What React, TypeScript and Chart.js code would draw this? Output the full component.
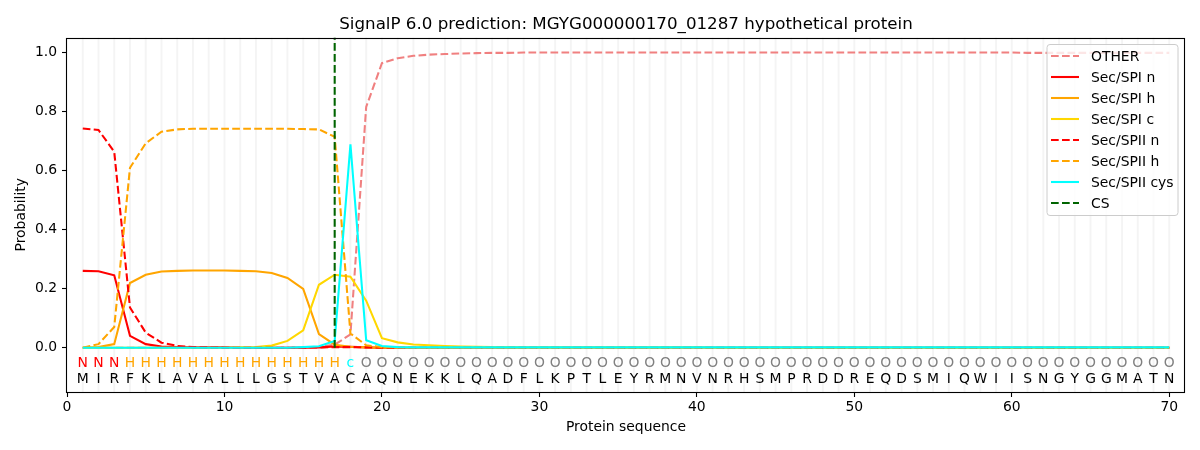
import React, { useEffect, useRef } from "react";
import { Chart, registerables } from "chart.js";

Chart.register(...registerables);

const TITLE = "SignalP 6.0 prediction: MGYG000000170_01287 hypothetical protein";
const X_LABEL = "Protein sequence";
const Y_LABEL = "Probability";

const SEQUENCE = "MIRFKLAVALLLGSTVACAQNEKKLQADFLKPTLEYRMNVNRHSMPRDDREQDSMIQWIISNGYGGMATN";
const REGION_LABELS =
  "NNN" + "HHHHHHHHHHHHHH" + "c" +
  "OOOOOOOOOO" + "OOOOOOOOOO" + "OOOOOOOOOO" + "OOOOOOOOOO" + "OOOOOOOOOO" + "OO";

const CS_POSITION = 17;
const X_TICKS = [0, 10, 20, 30, 40, 50, 60, 70];
const Y_TICKS = [0, 0.2, 0.4, 0.6, 0.8, 1.0];

const OTHER = [
  0, 0, 0, 0, 0, 0, 0, 0, 0, 0,
  0, 0, 0, 0, 0.001, 0.003, 0.01, 0.045, 0.815, 0.963,
  0.98, 0.988, 0.992, 0.994, 0.996, 0.997, 0.998, 0.998, 0.999, 0.999,
  0.999, 0.999, 0.999, 0.999, 0.999, 0.999, 0.999, 0.999, 0.999, 0.999,
  0.999, 0.999, 0.999, 0.999, 0.999, 0.999, 0.999, 0.999, 0.999, 0.999,
  0.999, 0.999, 0.999, 0.999, 0.999, 0.999, 0.999, 0.999, 0.999, 0.999,
  0.998, 0.998, 0.998, 0.998, 0.998, 0.998, 0.998, 0.998, 0.998, 0.998,
];
const SPI_N = [
  0.26, 0.259, 0.245, 0.04, 0.012, 0.004, 0.002, 0.001, 0.001, 0.001,
  0, 0, 0, 0, 0, 0.001, 0.004, 0.003, 0.001, 0,
  0, 0, 0, 0, 0, 0, 0, 0, 0, 0,
  0, 0, 0, 0, 0, 0, 0, 0, 0, 0,
  0, 0, 0, 0, 0, 0, 0, 0, 0, 0,
  0, 0, 0, 0, 0, 0, 0, 0, 0, 0,
  0, 0, 0, 0, 0, 0, 0, 0, 0, 0,
];
const SPI_H = [
  0, 0.002, 0.012, 0.219, 0.247, 0.258, 0.26, 0.261, 0.261, 0.261,
  0.26, 0.259, 0.253, 0.236, 0.199, 0.046, 0.01, 0.003, 0.001, 0,
  0, 0, 0, 0, 0, 0, 0, 0, 0, 0,
  0, 0, 0, 0, 0, 0, 0, 0, 0, 0,
  0, 0, 0, 0, 0, 0, 0, 0, 0, 0,
  0, 0, 0, 0, 0, 0, 0, 0, 0, 0,
  0, 0, 0, 0, 0, 0, 0, 0, 0, 0,
];
const SPI_C = [
  0, 0, 0, 0, 0, 0, 0, 0, 0, 0,
  0.001, 0.002, 0.007, 0.023, 0.059, 0.213, 0.247, 0.24, 0.159, 0.032,
  0.018, 0.011, 0.008, 0.006, 0.004, 0.003, 0.002, 0.002, 0.001, 0.001,
  0.001, 0.001, 0.001, 0.001, 0.001, 0.001, 0.001, 0.001, 0.001, 0.001,
  0, 0, 0, 0, 0, 0, 0, 0, 0, 0,
  0, 0, 0, 0, 0, 0, 0, 0, 0, 0,
  0, 0, 0, 0, 0, 0, 0, 0, 0, 0,
];
const SPII_N = [
  0.742, 0.737, 0.663, 0.136, 0.051, 0.017, 0.006, 0.002, 0.001, 0,
  0, 0, 0, 0, 0, 0.001, 0.002, 0.002, 0.001, 0,
  0, 0, 0, 0, 0, 0, 0, 0, 0, 0,
  0, 0, 0, 0, 0, 0, 0, 0, 0, 0,
  0, 0, 0, 0, 0, 0, 0, 0, 0, 0,
  0, 0, 0, 0, 0, 0, 0, 0, 0, 0,
  0, 0, 0, 0, 0, 0, 0, 0, 0, 0,
];
const SPII_H = [
  0, 0.012, 0.07, 0.609, 0.692, 0.731, 0.739, 0.741, 0.741, 0.741,
  0.741, 0.741, 0.741, 0.741, 0.74, 0.739, 0.714, 0.048, 0.008, 0.002,
  0.001, 0, 0, 0, 0, 0, 0, 0, 0, 0,
  0, 0, 0, 0, 0, 0, 0, 0, 0, 0,
  0, 0, 0, 0, 0, 0, 0, 0, 0, 0,
  0, 0, 0, 0, 0, 0, 0, 0, 0, 0,
  0, 0, 0, 0, 0, 0, 0, 0, 0, 0,
];
const SPII_CYS = [
  0, 0, 0, 0, 0, 0, 0, 0, 0, 0,
  0, 0, 0, 0, 0.002, 0.005, 0.023, 0.688, 0.025, 0.006,
  0.002, 0.001, 0.001, 0.001, 0.001, 0.001, 0.001, 0.001, 0.001, 0.001,
  0.001, 0.001, 0.001, 0.001, 0.001, 0.001, 0.001, 0.001, 0.001, 0.001,
  0.001, 0.001, 0.001, 0.001, 0.001, 0.001, 0.001, 0.001, 0.001, 0.001,
  0.001, 0.001, 0.001, 0.001, 0.001, 0.001, 0.001, 0.001, 0.001, 0.001,
  0.001, 0.001, 0.001, 0.001, 0.001, 0.001, 0.001, 0.001, 0.001, 0.001,
];
const CS_RANGE = [0, 1.05];

const FONT_FAMILY = "'DejaVu Sans', 'Liberation Sans', sans-serif";
const FS = 13.9;
const DASH = [7.7, 3.3];
const LW = 2.08;

const LABEL_COLORS: Record<string, string> = {
  N: "#ff0000",
  H: "#ffa500",
  c: "#00ffff",
  O: "#808080",
};

const SERIES = [
  { name: "OTHER", values: OTHER, color: "#f08080", dashed: true },
  { name: "Sec/SPI n", values: SPI_N, color: "#ff0000", dashed: false },
  { name: "Sec/SPI h", values: SPI_H, color: "#ffa500", dashed: false },
  { name: "Sec/SPI c", values: SPI_C, color: "#ffd700", dashed: false },
  { name: "Sec/SPII n", values: SPII_N, color: "#ff0000", dashed: true },
  { name: "Sec/SPII h", values: SPII_H, color: "#ffa500", dashed: true },
  { name: "Sec/SPII cys", values: SPII_CYS, color: "#00ffff", dashed: false },
];
const CS_SERIES = { name: "CS", color: "#006400", dashed: true };

const overlayPlugin = {
  id: "overlay",
  beforeDatasetsDraw(chart: any) {
    const { ctx, chartArea, scales } = chart;
    const x = scales.x;
    ctx.save();
    ctx.strokeStyle = "rgba(0,0,0,0.045)";
    ctx.lineWidth = 2;
    for (let i = 0; i < SEQUENCE.length; i++) {
      const px = x.getPixelForValue(i + 1);
      ctx.beginPath();
      ctx.moveTo(px, chartArea.top);
      ctx.lineTo(px, chartArea.bottom);
      ctx.stroke();
    }
    ctx.restore();
  },
  afterDatasetsDraw(chart: any) {
    const { ctx, chartArea, scales } = chart;
    const x = scales.x;
    const y = scales.y;
    ctx.save();
    // residue letters
    ctx.font = `${FS}px ${FONT_FAMILY}`;
    ctx.textAlign = "center";
    ctx.textBaseline = "alphabetic";
    const yLab = y.getPixelForValue(-0.066);
    const ySeq = y.getPixelForValue(-0.119);
    for (let i = 0; i < SEQUENCE.length; i++) {
      const px = x.getPixelForValue(i + 1);
      const lab = REGION_LABELS[i];
      ctx.fillStyle = LABEL_COLORS[lab] || "#808080";
      ctx.fillText(lab, px, yLab);
      ctx.fillStyle = "#000000";
      ctx.fillText(SEQUENCE[i], px, ySeq);
    }
    // axes frame
    ctx.strokeStyle = "#000000";
    ctx.lineWidth = 1.1;
    ctx.strokeRect(
      Math.round(chartArea.left) - 0.5,
      Math.round(chartArea.top) + 0.5,
      Math.round(chartArea.right) - Math.round(chartArea.left),
      Math.round(chartArea.bottom) - Math.round(chartArea.top)
    );
    // legend
    const items = [...SERIES, CS_SERIES];
    const boxRight = chartArea.right - 7;
    const boxLeft = boxRight - 131;
    const boxTop = chartArea.top + 7;
    const boxH = 171;
    const r = 3;
    ctx.beginPath();
    ctx.moveTo(boxLeft + r, boxTop);
    ctx.lineTo(boxRight - r, boxTop);
    ctx.arcTo(boxRight, boxTop, boxRight, boxTop + r, r);
    ctx.lineTo(boxRight, boxTop + boxH - r);
    ctx.arcTo(boxRight, boxTop + boxH, boxRight - r, boxTop + boxH, r);
    ctx.lineTo(boxLeft + r, boxTop + boxH);
    ctx.arcTo(boxLeft, boxTop + boxH, boxLeft, boxTop + boxH - r, r);
    ctx.lineTo(boxLeft, boxTop + r);
    ctx.arcTo(boxLeft, boxTop, boxLeft + r, boxTop, r);
    ctx.closePath();
    ctx.fillStyle = "rgba(255,255,255,0.8)";
    ctx.fill();
    ctx.strokeStyle = "#cccccc";
    ctx.lineWidth = 1;
    ctx.stroke();
    ctx.textAlign = "left";
    ctx.textBaseline = "middle";
    items.forEach((it, i) => {
      const cy = boxTop + 11.5 + 21 * i;
      ctx.strokeStyle = it.color;
      ctx.lineWidth = LW;
      ctx.setLineDash(it.dashed ? DASH : []);
      ctx.beginPath();
      ctx.moveTo(boxLeft + 4, cy);
      ctx.lineTo(boxLeft + 32, cy);
      ctx.stroke();
      ctx.setLineDash([]);
      ctx.fillStyle = "#000000";
      ctx.fillText(it.name, boxLeft + 44, cy + 1);
    });
    ctx.restore();
  },
  afterDraw(chart: any) {
    const { ctx, chartArea } = chart;
    ctx.save();
    ctx.font = `16.7px ${FONT_FAMILY}`;
    ctx.fillStyle = "#000000";
    ctx.textAlign = "center";
    ctx.textBaseline = "alphabetic";
    ctx.fillText(TITLE, (chartArea.left + chartArea.right) / 2, chartArea.top - 8.3);
    ctx.restore();
  },
};

export default function App() {
  const canvasRef = useRef<HTMLCanvasElement | null>(null);

  useEffect(() => {
    const canvas = canvasRef.current;
    if (!canvas) return;
    const positions = SEQUENCE.split("").map((_, i) => i + 1);
    const datasets: any[] = SERIES.map((s, idx) => ({
      label: s.name,
      data: positions.map((p, i) => ({ x: p, y: s.values[i] })),
      borderColor: s.color,
      backgroundColor: s.color,
      borderWidth: LW,
      borderDash: s.dashed ? DASH : [],
      pointRadius: 0,
      pointHoverRadius: 0,
      fill: false,
      tension: 0,
      order: -idx,
    }));
    datasets.push({
      label: CS_SERIES.name,
      data: CS_RANGE.map((v) => ({ x: CS_POSITION, y: v })),
      borderColor: CS_SERIES.color,
      backgroundColor: CS_SERIES.color,
      borderWidth: LW,
      borderDash: DASH,
      pointRadius: 0,
      pointHoverRadius: 0,
      fill: false,
      tension: 0,
      order: -SERIES.length,
    });

    const chart = new Chart(canvas, {
      type: "line",
      data: { datasets },
      plugins: [overlayPlugin],
      options: {
        animation: false,
        responsive: false,
        devicePixelRatio: 1,
        layout: { padding: { top: 37.5, right: 15, bottom: 0, left: 0 } },
        plugins: {
          legend: { display: false },
          title: { display: false },
          tooltip: { enabled: false },
        },
        scales: {
          x: {
            type: "linear",
            min: 0,
            max: 71,
            afterBuildTicks: (s: any) => {
              s.ticks = X_TICKS.map((v) => ({ value: v }));
            },
            afterFit: (s: any) => {
              s.height = 58;
            },
            ticks: {
              font: { family: FONT_FAMILY, size: FS },
              color: "#000000",
              padding: 2,
              maxRotation: 0,
              autoSkip: false,
              callback: (v: any) => String(v),
            },
            grid: {
              display: true,
              drawOnChartArea: false,
              drawTicks: true,
              tickLength: 5,
              tickColor: "#000000",
              tickWidth: 1.1,
            },
            border: { display: false },
            title: {
              display: true,
              text: X_LABEL,
              color: "#000000",
              font: { family: FONT_FAMILY, size: FS },
              padding: { top: 0, bottom: 14.4 },
            },
          },
          y: {
            type: "linear",
            min: -0.15,
            max: 1.05,
            afterBuildTicks: (s: any) => {
              s.ticks = Y_TICKS.map((v) => ({ value: v }));
            },
            afterFit: (s: any) => {
              s.width = 67;
            },
            ticks: {
              font: { family: FONT_FAMILY, size: FS },
              color: "#000000",
              padding: 5,
              autoSkip: false,
              callback: (v: any) => Number(v).toFixed(1),
            },
            grid: {
              display: true,
              drawOnChartArea: false,
              drawTicks: true,
              tickLength: 5,
              tickColor: "#000000",
              tickWidth: 1.1,
            },
            border: { display: false },
            title: {
              display: true,
              text: Y_LABEL,
              color: "#000000",
              font: { family: FONT_FAMILY, size: FS },
              padding: { top: 13.4, bottom: 0 },
            },
          },
        },
      },
    } as any);

    return () => {
      chart.destroy();
    };
  }, []);

  return (
    <div style={{ position: "fixed", left: 0, top: 0, width: 1200, height: 450, background: "#ffffff" }}>
      <canvas ref={canvasRef} width={1200} height={450} style={{ width: 1200, height: 450, display: "block" }} />
    </div>
  );
}
